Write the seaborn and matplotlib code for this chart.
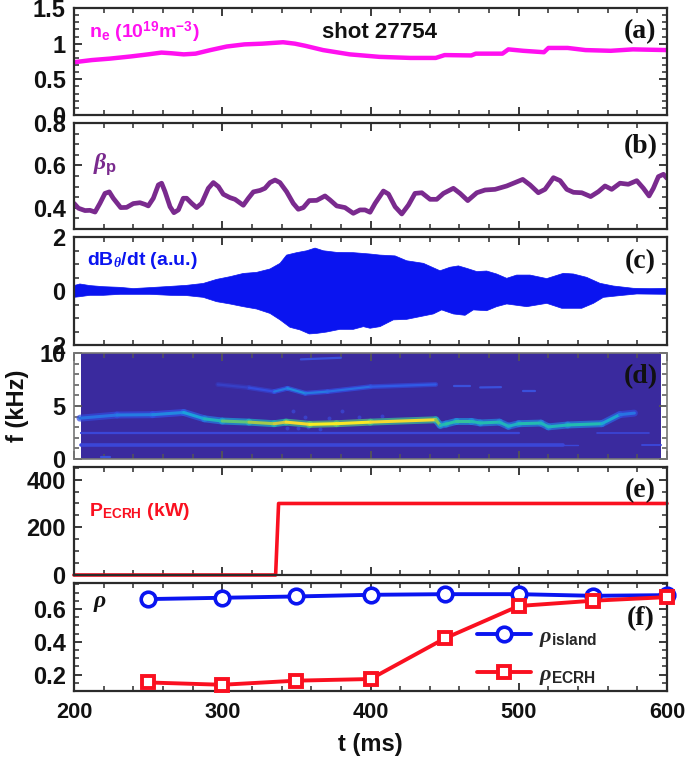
import numpy as np
import matplotlib
matplotlib.use("Agg")
import matplotlib.pyplot as plt
from matplotlib.collections import LineCollection
from matplotlib.colors import LinearSegmentedColormap
from matplotlib.ticker import MultipleLocator
import seaborn as sns

# (a) density
t_ne = [200, 212, 224, 238, 250, 259, 266, 274, 282, 292, 303, 315, 327, 341, 349, 356, 362, 368, 374, 386, 406, 427,
        444, 450, 468, 471, 489, 493, 503, 517, 520, 533, 545, 562, 577, 600]
ne = [0.74, 0.77, 0.79, 0.82, 0.85, 0.875, 0.865, 0.85, 0.86, 0.91, 0.96, 0.99, 1.0, 1.02, 1.0, 0.97, 0.94, 0.91, 0.89,
      0.85, 0.815, 0.80, 0.80, 0.84, 0.835, 0.86, 0.86, 0.92, 0.90, 0.88, 0.94, 0.94, 0.91, 0.90, 0.92, 0.91]

# (b) poloidal beta
t_beta = [200, 203, 207.4, 210.8, 214.2, 217.5, 220.9, 223.8, 226.5, 231.5, 235.5, 240, 244.5, 247.9, 250.1, 253.5,
          256.9, 259.1, 261.4, 264.8, 267.4, 270.4, 273.7, 276, 279.4, 282.7, 286.1, 290.6, 294, 297.4, 300.7, 305.2,
          308.6, 314.2, 317.6, 321, 325.5, 328.8, 332.2, 335.6, 338.9, 343.4, 347.9, 351.3, 354.7, 358.7, 363.7, 369.3,
          372.7, 377.2, 382.8, 388.4, 392.9, 396.3, 399.7, 403.1, 408.7, 412.1, 416.6, 421.1, 425.6, 430, 434.6, 440.2,
          444.7, 449.2, 455.9, 460.4, 465.6, 471.7, 477.3, 484, 491.9, 497.5, 502.7, 507.6, 513.2, 517.7, 523.4, 527.9,
          532.4, 536.9, 542.5, 548.5, 553.7, 558.2, 562.7, 568.3, 573.9, 579.6, 584.1, 587.9, 590.8, 594.2, 597.6, 600]
beta = [0.421, 0.398, 0.387, 0.388, 0.380, 0.421, 0.468, 0.475, 0.445, 0.401, 0.402, 0.420, 0.424, 0.416, 0.409, 0.445,
        0.508, 0.516, 0.476, 0.405, 0.377, 0.390, 0.445, 0.445, 0.421, 0.401, 0.421, 0.492, 0.519, 0.500, 0.464, 0.448,
        0.440, 0.412, 0.445, 0.475, 0.482, 0.492, 0.519, 0.531, 0.519, 0.476, 0.421, 0.393, 0.401, 0.434, 0.435, 0.456,
        0.437, 0.409, 0.401, 0.374, 0.390, 0.390, 0.379, 0.421, 0.479, 0.465, 0.405, 0.371, 0.413, 0.468, 0.471, 0.440,
        0.440, 0.468, 0.492, 0.468, 0.434, 0.471, 0.484, 0.487, 0.503, 0.519, 0.534, 0.508, 0.471, 0.487, 0.542, 0.528,
        0.487, 0.473, 0.471, 0.453, 0.476, 0.503, 0.487, 0.516, 0.511, 0.528, 0.492, 0.456, 0.492, 0.547, 0.558, 0.539]

# (c) magnetic probe envelope
t_up = [200, 204, 210.8, 219.8, 231, 240, 251.3, 264.8, 276, 287.2, 296.2, 305.2, 314.2, 323.2, 332.2, 339, 343.4,
        350.2, 357, 362.6, 368.2, 377.2, 388.4, 399.7, 406.4, 416.6, 424.4, 435.7, 446.9, 453.7, 459.3, 464.9, 471.7,
        478.4, 485.1, 491.9, 498.6, 507.6, 518.9, 530.1, 536.9, 545.8, 554.8, 563.8, 577.3, 588.6, 600]
dbdt_up = [0.20, 0.26, 0.20, 0.16, 0.135, 0.09, 0.125, 0.17, 0.21, 0.28, 0.43, 0.53, 0.65, 0.69, 0.815, 1.025, 1.33,
           1.42, 1.49, 1.59, 1.49, 1.43, 1.42, 1.37, 1.33, 1.30, 1.12, 1.025, 0.75, 0.88, 0.93, 0.84, 0.72, 0.74, 0.63,
           0.47, 0.59, 0.59, 0.46, 0.655, 0.63, 0.506, 0.285, 0.185, 0.10, 0.087, 0.10]
t_low = [200, 204, 210.8, 219.8, 231, 240, 251.3, 264.8, 276, 287.2, 296.2, 305.2, 314.2, 323.2, 332.2, 339, 345.7,
         352.4, 358.7, 363.7, 370.4, 379.4, 388.4, 395.2, 399.7, 406.4, 415.4, 424.4, 433.4, 442.4, 448, 455.9, 463.8,
         469.4, 478.4, 485.1, 491.9, 505.4, 518.9, 529, 542.5, 550.4, 557.1, 568.3, 579.6, 600]
dbdt_low = [-0.235, -0.21, -0.16, -0.16, -0.123, -0.123, -0.123, -0.16, -0.17, -0.235, -0.395, -0.48, -0.58, -0.667,
            -0.83, -1.07, -1.345, -1.44, -1.59, -1.57, -1.52, -1.42, -1.42, -1.32, -1.38, -1.32, -1.07, -1.05, -0.95,
            -0.85, -0.70, -0.85, -0.90, -0.70, -0.73, -0.58, -0.48, -0.58, -0.457, -0.64, -0.64, -0.457, -0.235, -0.17,
            -0.11, -0.123]

# (d) spectrogram ridges
t_main = [204, 229, 253, 274, 288, 300, 318, 335, 343, 359, 377, 400, 444, 447, 451, 458, 468, 474, 487, 493, 500, 515,
          520, 533, 556, 568, 578]
f_main = [3.85, 4.15, 4.18, 4.39, 3.79, 3.58, 3.48, 3.33, 3.48, 3.27, 3.33, 3.48, 3.7, 3.18, 3.3, 3.55, 3.55, 3.4, 3.48,
          3.09, 3.33, 3.39, 3.03, 3.21, 3.33, 4.18, 4.33]
amp_main = [0.22, 0.25, 0.27, 0.3, 0.38, 0.5, 0.68, 0.72, 0.82, 1.0, 0.98, 0.95, 0.85, 0.45, 0.45, 0.55, 0.5, 0.45, 0.5,
            0.38, 0.45, 0.5, 0.38, 0.5, 0.45, 0.28, 0.2]
t_upper = [297, 318, 335, 344, 356, 371, 400, 444]
f_upper = [7.03, 6.73, 6.36, 6.67, 6.2, 6.36, 6.82, 7.03]
amp_upper = [0.08, 0.1, 0.2, 0.3, 0.28, 0.22, 0.24, 0.14]
harm_bits = [([456, 467], [6.9, 6.9]), ([474, 488], [6.75, 6.78]), ([503, 511], [6.4, 6.4]),
             ([353, 380], [9.4, 9.55]), ([218, 224], [0.15, 0.15])]
low_lines = [([205, 530], [1.32, 1.32], 2.6), ([530, 540], [1.32, 1.32], 1.0), ([583, 596], [1.32, 1.32], 1.4),
             ([205, 500], [2.5, 2.5], 1.6), ([553, 588], [2.5, 2.5], 1.2)]
t_spots = [348, 356, 351, 358, 381, 366, 372, 344, 392, 408]
f_spots = [4.55, 4.0, 2.9, 3.0, 4.55, 2.8, 3.9, 2.95, 3.95, 4.1]

# (e) heating power
t_power = [200, 336, 338, 600]
power = [0, 0, 300, 300]

# (f) radii
t_rho = [250, 300, 350, 400, 450, 500, 550, 600]
rho_island = [0.66, 0.668, 0.676, 0.686, 0.69, 0.69, 0.68, 0.684]
rho_ecrh = [0.152, 0.138, 0.163, 0.173, 0.42, 0.618, 0.65, 0.672]

MAGENTA = "#ff10f0"
PURPLE = "#7a2a8e"
BLUE = "#0a14f0"
RED = "#fa1020"
EDGE = "#2b2b2b"
BG = "#3a2a9e"

sns.set_theme(style="ticks")
plt.rcParams["font.family"] = ["Liberation Sans", "DejaVu Sans"]
plt.rcParams["font.weight"] = "bold"
plt.rcParams["mathtext.fontset"] = "custom"
plt.rcParams["mathtext.rm"] = "Liberation Sans:bold"
plt.rcParams["mathtext.bf"] = "Liberation Sans:bold"
plt.rcParams["mathtext.it"] = "Liberation Serif:italic:bold"

W, H = 685, 762
fig = plt.figure(figsize=(W / 100, H / 100), dpi=100)


def panel(top, bottom, ylim, yticks, ylabels, yminor, letter, letter_y=0.75):
    ax = fig.add_axes([74 / W, 1 - bottom / H, (667 - 74) / W, (bottom - top) / H])
    ax.set_xlim(200, 600)
    ax.set_ylim(*ylim)
    ax.set_yticks(yticks)
    ax.set_yticklabels(ylabels)
    ax.yaxis.set_minor_locator(MultipleLocator(yminor))
    ax.xaxis.set_major_locator(MultipleLocator(100))
    ax.xaxis.set_minor_locator(MultipleLocator(20))
    ax.tick_params(which="major", direction="in", top=True, right=True, length=6, width=1.3, color=EDGE,
                   labelsize=17, pad=6, labelcolor="#111111")
    ax.tick_params(which="minor", direction="in", top=True, right=True, length=3.5, width=1.1, color=EDGE)
    ax.tick_params(axis="x", labelbottom=False)
    for s in ax.spines.values():
        s.set_linewidth(1.6)
        s.set_color(EDGE)
    ax.text(0.955, letter_y, letter, transform=ax.transAxes, ha="center", va="center", fontsize=20,
            family="Liberation Serif", weight="bold", color="#111111", zorder=6)
    return ax


# (a)
ax_a = panel(8, 115, (0, 1.5), [0, 0.5, 1, 1.5], ["0", "0.5", "1", "1.5"], 0.1, "(a)", 0.78)
sns.lineplot(x=t_ne, y=ne, ax=ax_a, color=MAGENTA, linewidth=3.2, estimator=None, sort=False)
ax_a.text(0.025, 0.775, r"n$_{\mathrm{e}}$ (10$^{19}$m$^{-3}$)", transform=ax_a.transAxes, color=MAGENTA, fontsize=14,
          va="center")
ax_a.text(0.515, 0.775, "shot 27754", transform=ax_a.transAxes, fontsize=16, ha="center", va="center", color="#111111")

# (b)
ax_b = panel(123, 229, (0.3, 0.8), [0.4, 0.6, 0.8], ["0.4", "0.6", "0.8"], 0.05, "(b)", 0.78)
sns.lineplot(x=t_beta, y=beta, ax=ax_b, color=PURPLE, linewidth=3.4, estimator=None, sort=False)
ax_b.text(0.032, 0.61, r"$\mathit{\beta}_{\mathrm{p}}$", transform=ax_b.transAxes, color=PURPLE, fontsize=17, va="center")

# (c)
ax_c = panel(237, 345, (-2, 2), [-2, 0, 2], ["2", "0", "2"], 0.5, "(c)", 0.77)
ax_c.fill(list(t_up) + list(t_low[::-1]), list(dbdt_up) + list(dbdt_low[::-1]), color=BLUE, linewidth=0.5)
ax_c.text(0.022, 0.785, r"dB$_{\mathit{\theta}}$/dt (a.u.)", transform=ax_c.transAxes, color=BLUE, fontsize=14, va="center")

# (d)
ax_d = panel(353, 459, (0, 10), [0, 5, 10], ["0", "5", "10"], 1, "(d)", 0.78)
ax_d.axvspan(205, 596, color=BG, lw=0, zorder=0)
ax_d.set_ylabel("f (kHz)", fontsize=17, color="#111111", weight="bold")
ax_d.yaxis.set_label_coords((29 - 74) / 593, 0.5)
for s in ax_d.spines.values():
    s.set_linewidth(1.2)
    s.set_color("#777777")
ax_d.tick_params(which="both", color="#555555")

parula = LinearSegmentedColormap.from_list(
    "parula_ish", [BG, "#3350e8", "#1aa0dc", "#25c0a8", "#90c850", "#f0c838", "#fbf020"])


def ridge(ax, t, f, amp, width, alpha=1.0):
    pts = np.column_stack([t, f])
    segs = np.stack([pts[:-1], pts[1:]], axis=1)
    lc = LineCollection(segs, cmap=parula, linewidths=width, alpha=alpha, capstyle="round", zorder=2)
    lc.set_array((np.array(amp[:-1]) + np.array(amp[1:])) / 2)
    lc.set_clim(0, 1)
    ax.add_collection(lc)


for t_line, f_line, lw_line in low_lines:
    sns.lineplot(x=t_line, y=f_line, ax=ax_d, color="#3a46d8", linewidth=lw_line, estimator=None, sort=False, zorder=1)
for t_bit, f_bit in harm_bits:
    sns.lineplot(x=t_bit, y=f_bit, ax=ax_d, color="#3a50dc", linewidth=1.6, estimator=None, sort=False, zorder=1)
sns.scatterplot(x=t_spots, y=f_spots, ax=ax_d, color="#3a40c8", s=8, marker="o", linewidth=0, zorder=1)
amp_glow = [a * 0.6 for a in amp_main]
ridge(ax_d, t_main, f_main, amp_glow, 5, alpha=0.7)
ridge(ax_d, t_main, f_main, amp_main, 2.2)
ridge(ax_d, t_upper, f_upper, [a * 0.7 for a in amp_upper], 3.5, alpha=0.7)
ridge(ax_d, t_upper, f_upper, amp_upper, 1.6)
ax_d.set_ylim(0, 10)
ax_d.set_xlim(200, 600)

# (e)
ax_e = panel(467, 575, (0, 453), [0, 200, 400], ["0", "200", "400"], 50, "(e)", 0.78)
sns.lineplot(x=t_power, y=power, ax=ax_e, color=RED, linewidth=2.6, estimator=None, sort=False, clip_on=False)
ax_e.text(0.025, 0.585, r"P$_{\mathrm{ECRH}}$ (kW)", transform=ax_e.transAxes, color=RED, fontsize=14, va="center")

# (f)
ax_f = panel(583, 691, (0.1, 0.758), [0.2, 0.4, 0.6], ["0.2", "0.4", "0.6"], 0.05, "(f)", 0.667)
ax_f.tick_params(axis="x", labelbottom=True, pad=8, labelsize=15.7)
sns.lineplot(x=t_rho, y=rho_island, ax=ax_f, color=BLUE, linewidth=2.8, marker="o", markersize=10.5,
             markerfacecolor="white", markeredgecolor=BLUE, markeredgewidth=2.6, estimator=None, sort=False,
             clip_on=False, zorder=3, label=r"$\mathit{\rho}_{\mathrm{island}}$")
sns.lineplot(x=t_rho, y=rho_ecrh, ax=ax_f, color=RED, linewidth=2.8, marker="s", markersize=8, markerfacecolor="white",
             markeredgecolor=RED, markeredgewidth=2.8, estimator=None, sort=False, clip_on=False, zorder=4,
             label=r"$\mathit{\rho}_{\mathrm{ECRH}}$")
ax_f.legend(loc="upper left", bbox_to_anchor=(0.68, 0.60), frameon=False, fontsize=16, handlelength=2.4,
            labelspacing=0.65, handletextpad=0.4, borderpad=0, borderaxespad=0)
ax_f.text(0.032, 0.82, r"$\mathit{\rho}$", transform=ax_f.transAxes, fontsize=17, va="center", color="#111111")
ax_f.set_xlabel("t (ms)", fontsize=17, labelpad=7, color="#111111", weight="bold")

fig.savefig("out.png", dpi=100)
